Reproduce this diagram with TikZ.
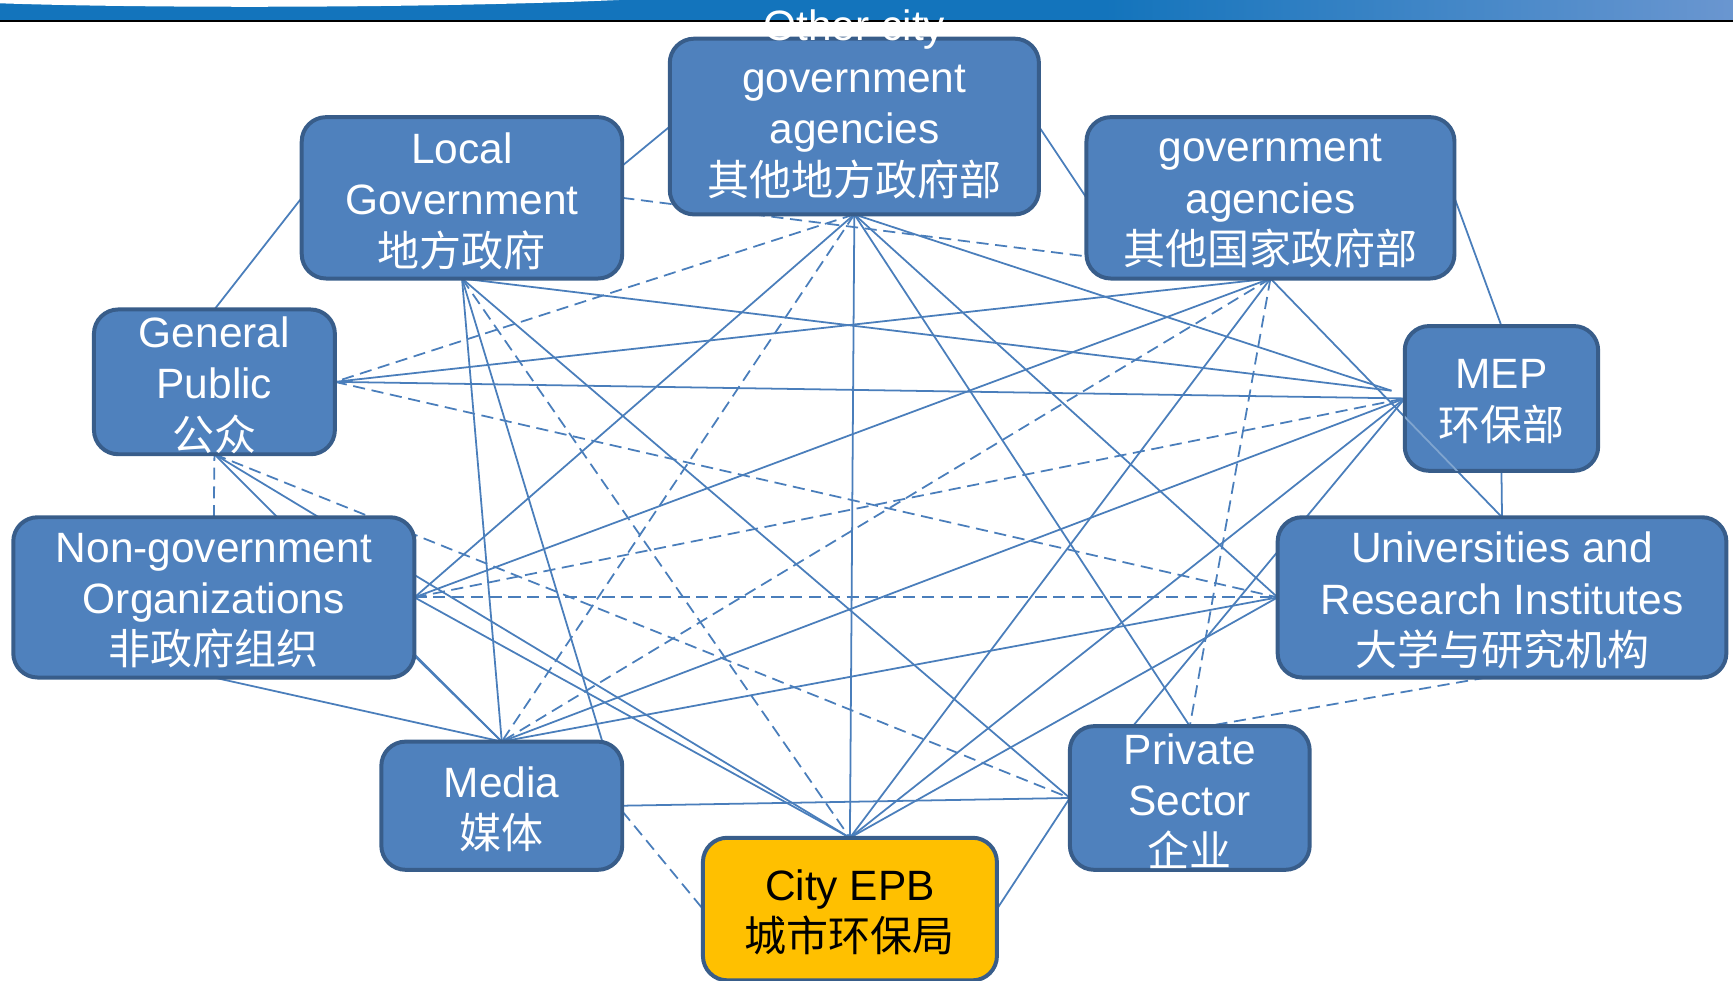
\documentclass[tikz,border=0pt]{standalone}
\usepackage{fontspec}
\setmainfont{Liberation Sans}
\newfontfamily\cjkf{Noto Sans CJK SC}
\newcommand\zh[1]{{\cjkf\fontsize{19}{23.25}\selectfont #1}}
\usetikzlibrary{calc,backgrounds}
\definecolor{boxfill}{HTML}{4F81BD}
\definecolor{boxline}{HTML}{385D8A}
\definecolor{conn}{HTML}{4A7EBB}
\definecolor{epb}{HTML}{FFC000}
\definecolor{barA}{HTML}{1374BC}
\definecolor{barB}{HTML}{6A96D0}
\begin{document}
\begin{tikzpicture}[x=0.5pt,y=-0.5pt,
  box/.style={draw=boxline, line width=1.8pt, fill=boxfill, rounded corners=11pt,
    inner sep=0pt, outer sep=0pt},
  boxtext/.style={text=white, align=center, inner sep=0pt, yshift=-1.5pt,
    font=\fontsize{19.2}{23.25}\selectfont},
  link/.style={draw=conn, line width=0.8pt},
  dlink/.style={link, dash pattern=on 5.5pt off 3pt},
]
\useasboundingbox (0,0) rectangle (1568,887.6);

% boxes
\node[box, minimum width=167pt, minimum height=79.5pt] (oc) at (773,114.5) {};
\node[box, minimum width=145pt, minimum height=73pt,
  label={[boxtext,name=lgt]center:{Local\\Government\\\zh{地方政府}}}] (lg) at (418,179) {};
\node[box, minimum width=166.5pt, minimum height=73pt,
  label={[boxtext,name=ngt]center:{government\\agencies\\\zh{其他国家政府部}}}] (ng) at (1149.5,179) {};
\node[box, minimum width=109pt, minimum height=65.5pt,
  label={[boxtext,name=gpt]center:{General\\Public\\\zh{公众}}}] (gp) at (194,345.5) {};
\node[box, minimum width=87.5pt, minimum height=65.5pt,
  label={[boxtext,name=mept]center:{MEP\\\zh{环保部}}}] (mep) at (1358.5,360.5) {};
\node[box, minimum width=181.5pt, minimum height=72.5pt,
  label={[boxtext,name=ngot]center:{Non-government\\Organizations\\\zh{非政府组织}}}] (ngo) at (193.5,540.5) {};
\node[box, minimum width=203pt, minimum height=72.5pt,
  label={[boxtext,name=unit]center:{Universities and\\Research Institutes\\\zh{大学与研究机构}}}] (uni) at (1359,540.5) {};
\node[box, minimum width=109pt, minimum height=58pt,
  label={[boxtext,name=mdt]center:{Media\\\zh{媒体}}}] (md) at (454,729) {};
\node[box, minimum width=108.5pt, minimum height=65pt,
  label={[boxtext,name=pst]center:{Private\\Sector\\\zh{企业}}}] (ps) at (1076.5,722) {};
\node[box, fill=epb, minimum width=133pt, minimum height=64.5pt,
  label={[boxtext,text=black,name=cet]center:{City EPB\\\zh{城市环保局}}}] (ce) at (769,822.5) {};

\coordinate (mepx) at ($(mep.west)+(-12,-7)$);

\begin{pgfonlayer}{background}
  % top bar
  \fill[barA] (0,0) rectangle (1000,19);
  \shade[left color=barA, right color=barB] (1000,0) rectangle (1568,19);
  \fill[white] (0,0) -- (0,3) .. controls (150,8) and (400,7) .. (560,0) -- cycle;
  \draw[black, line width=0.75pt] (0,19.3) -- (1568,19.3);

  % outer ring
  \draw[link] (gp.north) -- (lg.west);
  \draw[link] ($(lg.east)+(0,-29)$) -- (oc.west);
  \draw[link] (oc.east) -- (ng.west);
  \draw[link] (ng.east) -- (mep.north);
  \draw[link] (mep.south) -- (uni.north);
  \draw[dlink] ($(uni.south)+(-14,0)$) -- ($(ps.north)+(16,0)$);
  \draw[link] (ps.west) -- (ce.east);
  \draw[dlink] ($(md.east)+(0,5)$) -- (ce.west);
  \draw[link] (ngo.south) -- (md.north);
  \draw[dlink] (ngo.north) -- (gp.south);

  % internal
  \draw[dlink] (lg.east) -- ($(ng.west)+(0,53)$);
  \draw[dlink] (oc.south) -- (gp.east);
  \draw[link] (oc.south) -- (ngo.east);
  \draw[dlink] (oc.south) -- (md.north);
  \draw[link] (oc.south) -- (ce.north);
  \draw[link] (oc.south) -- (ps.north);
  \draw[link] (oc.south) -- (uni.west);
  \draw[link] (oc.south) -- (mepx);
  \draw[link] (lg.south) -- (md.north);
  \draw[link] (lg.south) -- ($(md.north east)+(-18,0)$);
  \draw[dlink] (lg.south) -- (ce.north);
  \draw[link] (lg.south) -- (ps.west);
  \draw[link] (lg.south) -- (mepx);
  \draw[link] (ng.south) -- (gp.east);
  \draw[link] (ng.south) -- (ngo.east);
  \draw[dlink] (ng.south) -- (md.north);
  \draw[link] (ng.south) -- (ce.north);
  \draw[dlink] (ng.south) -- (ps.north);
  \draw[link] (ng.south) -- (uni.north);
  \draw[link] (gp.east) -- (mep.west);
  \draw[dlink] (gp.east) -- (uni.west);
  \draw[link] (gp.south) -- (md.north);
  \draw[link] (gp.south) -- (ce.north);
  \draw[dlink] (gp.south) -- (ps.west);
  \draw[dlink] (ngo.east) -- (mep.west);
  \draw[dlink] (ngo.east) -- (uni.west);
  \draw[link] (ngo.east) -- (ce.north);
  \draw[link] ($(ngo.east)+(0,53)$) -- (md.north);
  \draw[link] (mep.west) -- (md.north);
  \draw[link] (mep.west) -- (ce.north);
  \draw[link] (mep.west) -- ($(ps.north west)+(57,0)$);
  \draw[link] (uni.west) -- (md.north);
  \draw[link] (uni.west) -- (ce.north);
  \draw[link] (md.east) -- (ps.west);
\end{pgfonlayer}

% faint line crossing the MEP box
\begin{scope}
  \clip (mep.north west) rectangle (mep.south east);
  \draw[draw=conn!70!white, line width=0.8pt] (ng.south) -- (uni.north);
\end{scope}

% overflowing text of the top box
\node[boxtext] (octext) at (773,91.5)
  {Other city\\government\\agencies\\\zh{其他地方政府部}};
\end{tikzpicture}
\end{document}
